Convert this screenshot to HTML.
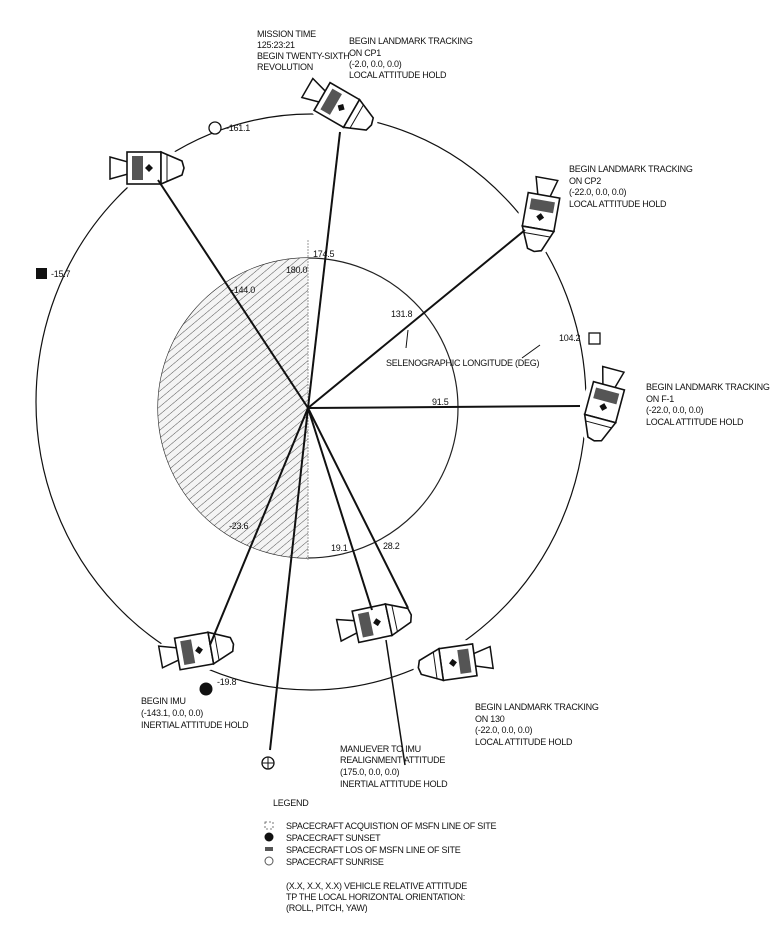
<!DOCTYPE html>
<html><head><meta charset="utf-8"><style>
html,body{margin:0;padding:0;background:#fff;}
svg{display:block;}
text{font-family:"Liberation Sans",sans-serif;font-size:9px;letter-spacing:-0.25px;fill:#111;}
</style></head><body>
<svg width="773" height="951" viewBox="0 0 773 951" xmlns="http://www.w3.org/2000/svg">
<defs>
<pattern id="h" width="6" height="6" patternUnits="userSpaceOnUse" patternTransform="rotate(-40)">
<rect width="6" height="6" fill="#f4f4f4"/>
<line x1="0" y1="0" x2="6" y2="0" stroke="#555" stroke-width="1"/>
</pattern>
<clipPath id="lh"><rect x="150" y="250" width="158" height="320"/></clipPath>
<g id="sc">
<ellipse cx="-3" cy="0" rx="42" ry="22" fill="#fff"/>
<path d="M-40,-11 L-22,-6 L-22,6 L-40,11 Z" fill="#fff" stroke="#111" stroke-width="1.5"/>
<rect x="-23" y="-16" width="34" height="32" fill="#fff" stroke="#111" stroke-width="1.6"/>
<rect x="-18" y="-12" width="11" height="24" fill="#555"/>
<path d="M11,-16 L32,-7 L34,0 L32,7 L11,16 Z" fill="#fff" stroke="#111" stroke-width="1.6"/>
<path d="M-1,-4 l4,4 l-4,4 l-4,-4z" fill="#111"/>
<line x1="17" y1="-13" x2="17" y2="13" stroke="#111"/>
</g>
</defs>
<ellipse cx="311" cy="402" rx="275" ry="288" fill="none" stroke="#111" stroke-width="1.2"/>
<circle cx="308" cy="408" r="150" fill="#fff" stroke="#222" stroke-width="1.2"/>
<circle cx="308" cy="408" r="150" fill="url(#h)" clip-path="url(#lh)"/>
<line x1="308" y1="240" x2="308" y2="560" stroke="#999" stroke-dasharray="2,1"/>
<use href="#sc" transform="translate(150,168)"/>
<use href="#sc" transform="translate(342,108) rotate(30)"/>
<use href="#sc" transform="translate(540,218) rotate(100)"/>
<use href="#sc" transform="translate(603,408) rotate(105)"/>
<use href="#sc" transform="translate(200,650) rotate(-10)"/>
<use href="#sc" transform="translate(378,622) rotate(-12)"/>
<use href="#sc" transform="translate(452,663) rotate(172)"/>
<g stroke="#111" stroke-width="2">
<line x1="308" y1="408" x2="340" y2="132"/>
<line x1="308" y1="408" x2="158" y2="180"/>
<line x1="308" y1="408" x2="525" y2="230"/>
<line x1="308" y1="408" x2="580" y2="406"/>
<line x1="308" y1="408" x2="210" y2="645"/>
<line x1="308" y1="408" x2="270" y2="750"/>
<line x1="308" y1="408" x2="372" y2="610"/>
<line x1="308" y1="408" x2="408" y2="608"/>
<line x1="386" y1="640" x2="405" y2="765" stroke-width="1.5"/>
</g>
<line x1="408" y1="330" x2="406" y2="348" stroke="#111"/>
<line x1="540" y1="345" x2="522" y2="358" stroke="#111"/>
<circle cx="215" cy="128" r="6" fill="#fff" stroke="#111" stroke-width="1.3"/>
<rect x="36" y="268" width="11" height="11" fill="#111"/>
<rect x="589" y="333" width="11" height="11" fill="#fff" stroke="#111" stroke-width="1.3"/>
<circle cx="206" cy="689" r="6.5" fill="#111"/>
<circle cx="268" cy="763" r="6" fill="#fff" stroke="#111" stroke-width="1.3"/>
<line x1="262" y1="763" x2="274" y2="763" stroke="#111"/><line x1="268" y1="757" x2="268" y2="769" stroke="#111"/>
<text x="226" y="131">-161.1</text>
<text x="51" y="277">-15.7</text>
<text x="559" y="341">104.2</text>
<text x="217" y="685">-19.8</text>
<text x="313" y="257">174.5</text>
<text x="286" y="273">180.0</text>
<text x="231" y="293">-144.0</text>
<text x="391" y="317">131.8</text>
<text x="386" y="366">SELENOGRAPHIC LONGITUDE (DEG)</text>
<text x="432" y="405">91.5</text>
<text x="229" y="529">-23.6</text>
<text x="331" y="551">19.1</text>
<text x="383" y="549">28.2</text>
<text x="257" y="37">MISSION TIME</text>
<text x="257" y="48">125:23:21</text>
<text x="257" y="59">BEGIN TWENTY-SIXTH</text>
<text x="257" y="70">REVOLUTION</text>
<text x="349" y="44">BEGIN LANDMARK TRACKING</text>
<text x="349" y="56">ON CP1</text>
<text x="349" y="67">(-2.0, 0.0, 0.0)</text>
<text x="349" y="78">LOCAL ATTITUDE HOLD</text>
<text x="569" y="172">BEGIN LANDMARK TRACKING</text>
<text x="569" y="184">ON CP2</text>
<text x="569" y="195">(-22.0, 0.0, 0.0)</text>
<text x="569" y="207">LOCAL ATTITUDE HOLD</text>
<text x="646" y="390">BEGIN LANDMARK TRACKING</text>
<text x="646" y="402">ON F-1</text>
<text x="646" y="413">(-22.0, 0.0, 0.0)</text>
<text x="646" y="425">LOCAL ATTITUDE HOLD</text>
<text x="141" y="704">BEGIN IMU</text>
<text x="141" y="716">(-143.1, 0.0, 0.0)</text>
<text x="141" y="728">INERTIAL ATTITUDE HOLD</text>
<text x="475" y="710">BEGIN LANDMARK TRACKING</text>
<text x="475" y="722">ON 130</text>
<text x="475" y="733">(-22.0, 0.0, 0.0)</text>
<text x="475" y="745">LOCAL ATTITUDE HOLD</text>
<text x="340" y="752">MANUEVER TO IMU</text>
<text x="340" y="763">REALIGNMENT ATTITUDE</text>
<text x="340" y="775">(175.0, 0.0, 0.0)</text>
<text x="340" y="787">INERTIAL ATTITUDE HOLD</text>
<text x="273" y="806">LEGEND</text>
<rect x="265" y="822" width="8" height="7" fill="#fff" stroke="#555" stroke-width="0.8" stroke-dasharray="2,2"/>
<circle cx="269" cy="837" r="4.5" fill="#111"/>
<rect x="265" y="847" width="8" height="4" fill="#555"/>
<circle cx="269" cy="861" r="4" fill="#fff" stroke="#555"/>
<text x="286" y="829">SPACECRAFT ACQUISTION OF MSFN LINE OF SITE</text>
<text x="286" y="841">SPACECRAFT SUNSET</text>
<text x="286" y="853">SPACECRAFT LOS OF MSFN LINE OF SITE</text>
<text x="286" y="865">SPACECRAFT SUNRISE</text>
<text x="286" y="889">(X.X, X.X, X.X) VEHICLE RELATIVE ATTITUDE</text>
<text x="286" y="900">TP THE LOCAL HORIZONTAL ORIENTATION:</text>
<text x="286" y="911">(ROLL, PITCH, YAW)</text>
</svg>
</body></html>
